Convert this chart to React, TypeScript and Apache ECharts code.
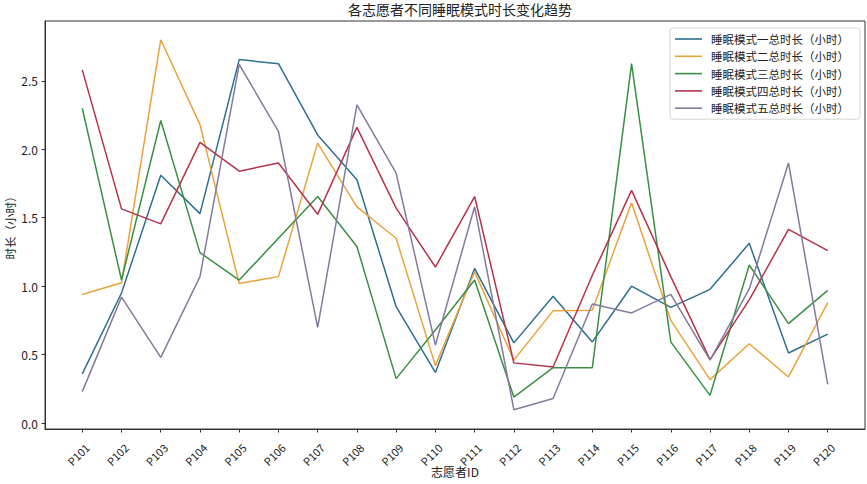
import React, { useEffect, useRef } from "react";
import * as echarts from "echarts";

const categories = ["P101","P102","P103","P104","P105","P106","P107","P108","P109","P110","P111","P112","P113","P114","P115","P116","P117","P118","P119","P120"];
const seriesNames = ["睡眠模式一总时长（小时）","睡眠模式二总时长（小时）","睡眠模式三总时长（小时）","睡眠模式四总时长（小时）","睡眠模式五总时长（小时）"];
const mode1 = [0.36, 0.95, 1.81, 1.53, 2.655, 2.625, 2.105, 1.777, 0.85, 0.37, 1.13, 0.586, 0.927, 0.593, 1.0, 0.845, 0.977, 1.313, 0.512, 0.65];
const mode2 = [0.94, 1.025, 2.80, 2.18, 1.02, 1.07, 2.045, 1.58, 1.35, 0.42, 1.105, 0.46, 0.82, 0.825, 1.61, 0.75, 0.318, 0.58, 0.337, 0.88];
const mode3 = [2.30, 1.045, 2.21, 1.245, 1.045, 1.35, 1.655, 1.29, 0.325, 0.68, 1.045, 0.19, 0.405, 0.405, 2.625, 0.593, 0.203, 1.155, 0.727, 0.97];
const mode4 = [2.58, 1.565, 1.455, 2.05, 1.84, 1.90, 1.525, 2.16, 1.57, 1.14, 1.655, 0.44, 0.41, 1.08, 1.70, 1.07, 0.464, 0.90, 1.415, 1.26];
const mode5 = [0.23, 0.92, 0.48, 1.07, 2.62, 2.13, 0.70, 2.325, 1.825, 0.57, 1.58, 0.098, 0.18, 0.87, 0.805, 0.94, 0.46, 0.98, 1.90, 0.283];
const yTicks = [0, 0.5, 1.0, 1.5, 2.0, 2.5];
const colors = ["#2e6e8e", "#e8a33d", "#3b8f45", "#b5334a", "#857a9c"];

const FONT = "'Noto Sans CJK SC', 'DejaVu Sans', sans-serif";

export default function App() {
  const ref = useRef<HTMLDivElement>(null);
  useEffect(() => {
    document.body.style.margin = "0";
    if (!ref.current) return;
    const chart = echarts.init(ref.current, null, { renderer: "svg" });
    const all = [mode1, mode2, mode3, mode4, mode5];
    const xIdx = categories.map((_, i) => i);
    chart.setOption({
      animation: false,
      backgroundColor: "#ffffff",
      textStyle: { fontFamily: FONT },
      title: {
        text: "各志愿者不同睡眠模式时长变化趋势",
        left: 455,
        textAlign: "center",
        top: -3,
        textStyle: { fontSize: 14, fontWeight: "normal", color: "#222", fontFamily: FONT },
      },
      legend: {
        orient: "vertical",
        right: 7,
        top: 28,
        data: seriesNames,
        icon: "rect",
        itemWidth: 27,
        itemHeight: 1.6,
        itemGap: 3.3,
        padding: [4, 11, 4, 5],
        backgroundColor: "rgba(255,255,255,0.85)",
        borderColor: "#d6d6d6",
        borderWidth: 1,
        borderRadius: 3,
        textStyle: { fontSize: 11.5, lineHeight: 14, color: "#222", fontFamily: FONT, padding: [0, 0, 0, 4] },
      },
      grid: {
        left: 45,
        right: 2,
        top: 21,
        bottom: 55,
        containLabel: false,
        outerBoundsMode: "none",
        show: true,
        borderColor: "#333",
        borderWidth: 1,
        backgroundColor: "transparent",
      },
      xAxis: {
        type: "value",
        min: -0.95,
        max: 19.95,
        name: "志愿者ID",
        nameLocation: "middle",
        nameGap: 36,
        nameMoveOverlap: false,
        nameTextStyle: { fontSize: 12, color: "#222", fontFamily: FONT },
        splitLine: { show: false },
        axisLine: { show: true, onZero: false, lineStyle: { color: "#333", width: 1 } },
        axisTick: { show: true, length: 3.5, inside: false, lineStyle: { color: "#333" }, customValues: xIdx },
        axisLabel: {
          customValues: xIdx,
          formatter: (v: number) => categories[Math.round(v)] ?? "",
          rotate: 45,
          align: "center",
          verticalAlign: "middle",
          margin: 21,
          padding: [0, 12, 0, 0],
          fontSize: 11,
          color: "#222",
          fontFamily: FONT,
        },
      },
      yAxis: {
        type: "value",
        min: -0.043,
        max: 2.937,
        name: "时长（小时）",
        nameLocation: "middle",
        nameGap: 29,
        nameRotate: 90,
        nameMoveOverlap: false,
        nameTextStyle: { fontSize: 11.5, color: "#222", fontFamily: FONT },
        splitLine: { show: false },
        axisLine: { show: true, onZero: false, lineStyle: { color: "#333", width: 1 } },
        axisTick: { show: true, length: 3.5, lineStyle: { color: "#333" }, customValues: yTicks },
        axisLabel: {
          customValues: yTicks,
          formatter: (v: number) => v.toFixed(1),
          margin: 7,
          fontSize: 12,
          color: "#222",
          fontFamily: FONT,
        },
      },
      series: all.map((arr, s) => ({
        name: seriesNames[s],
        type: "line",
        data: arr.map((v, i) => [i, v]),
        symbol: "none",
        lineStyle: { color: colors[s], width: 1.5 },
        itemStyle: { color: colors[s] },
      })),
    });
    return () => chart.dispose();
  }, []);
  return <div ref={ref} style={{ width: 867, height: 484 }} />;
}
